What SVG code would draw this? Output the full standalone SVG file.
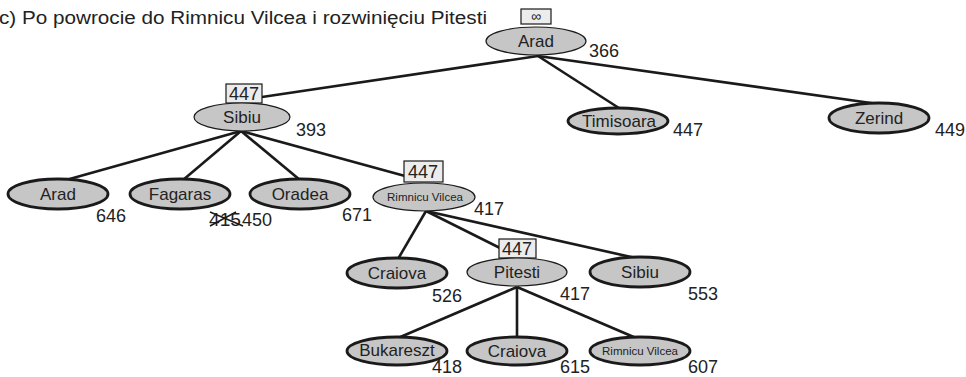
<svg xmlns="http://www.w3.org/2000/svg" width="966" height="377" viewBox="0 0 966 377">
<style>
text{font-family:"Liberation Sans","DejaVu Sans",sans-serif;fill:#222}
.e{fill:#c6c6c6;stroke:#1a1a1a}
.x{stroke-width:1.2}
.k{stroke-width:2.8}
.b{fill:#ececec;stroke:#1a1a1a;stroke-width:1.2}
.n{font-size:17px;text-anchor:middle}
.s{font-size:11.5px;text-anchor:middle}
.v{font-size:18px}
.bv{font-size:18px;text-anchor:middle}
.c line{stroke:#1a1a1a;stroke-width:2.6;fill:none}
</style>
<rect width="966" height="377" fill="#fff"/>
<text x="-1" y="24" font-size="18" textLength="488" lengthAdjust="spacingAndGlyphs">c) Po powrocie do Rimnicu Vilcea i rozwinięciu Pitesti</text>
<g class="c" id="connectors">
<line x1="538" y1="56" x2="262" y2="97"/>
<line x1="538" y1="56" x2="622" y2="110"/>
<line x1="538" y1="56" x2="878" y2="104"/>
<line x1="241" y1="131" x2="66" y2="180"/>
<line x1="241" y1="131" x2="183" y2="180"/>
<line x1="241" y1="131" x2="300" y2="180"/>
<line x1="241" y1="131" x2="405" y2="176"/>
<line x1="426" y1="211" x2="398" y2="259"/>
<line x1="426" y1="211" x2="500" y2="248"/>
<line x1="426" y1="211" x2="640" y2="259"/>
<line x1="517" y1="287" x2="398" y2="338"/>
<line x1="517" y1="287" x2="517" y2="338"/>
<line x1="517" y1="287" x2="636" y2="338"/>
</g>
<g id="n-arad-root">
<rect class="b" x="521" y="9" width="30" height="15"/>
<text x="536" y="21" font-size="14" text-anchor="middle">∞</text>
<ellipse class="e x" cx="536" cy="41" rx="50" ry="14"/>
<text class="n" x="536" y="47">Arad</text>
<text class="v" x="589" y="57">366</text>
</g>
<g id="n-sibiu">
<rect class="b" x="226" y="84" width="36" height="19"/>
<text class="bv" x="244" y="100">447</text>
<ellipse class="e x" cx="242" cy="117" rx="48" ry="14"/>
<text class="n" x="242" y="123">Sibiu</text>
<text class="v" x="296" y="136">393</text>
</g>
<g id="n-timisoara">
<ellipse class="e k" cx="618" cy="121" rx="50" ry="13"/>
<text class="n" x="619" y="127" font-size="15.5">Timisoara</text>
<text class="v" x="673" y="136">447</text>
</g>
<g id="n-zerind">
<ellipse class="e k" cx="879" cy="118" rx="50" ry="15"/>
<text class="n" x="879" y="124">Zerind</text>
<text class="v" x="935" y="136">449</text>
</g>
<g id="n-arad2">
<ellipse class="e k" cx="58" cy="194" rx="50" ry="15"/>
<text class="n" x="58" y="200">Arad</text>
<text class="v" x="96" y="222">646</text>
</g>
<g id="n-fagaras">
<ellipse class="e k" cx="180" cy="194" rx="50" ry="15"/>
<text class="n" x="180" y="200">Fagaras</text>
<text class="v" x="209" y="226" textLength="32" lengthAdjust="spacingAndGlyphs">415</text>
<line x1="210" y1="212" x2="243" y2="226" stroke="#1a1a1a" stroke-width="1.5"/>
<line x1="210" y1="226" x2="236" y2="212" stroke="#1a1a1a" stroke-width="1.5"/>
<text class="v" x="242" y="226">450</text>
</g>
<g id="n-oradea">
<ellipse class="e k" cx="300" cy="194" rx="50" ry="15"/>
<text class="n" x="300" y="200">Oradea</text>
<text class="v" x="342" y="221">671</text>
</g>
<g id="n-rimnicu">
<rect class="b" x="404" y="161" width="39" height="21"/>
<text class="bv" x="423" y="178">447</text>
<ellipse class="e x" cx="424" cy="197" rx="51" ry="14"/>
<text class="s" x="425" y="201" textLength="76" lengthAdjust="spacingAndGlyphs">Rimnicu Vilcea</text>
<text class="v" x="474" y="215">417</text>
</g>
<g id="n-craiova1">
<ellipse class="e k" cx="397" cy="273" rx="50" ry="15"/>
<text class="n" x="397" y="279">Craiova</text>
<text class="v" x="432" y="302">526</text>
</g>
<g id="n-pitesti">
<rect class="b" x="499" y="239" width="37" height="19"/>
<text class="bv" x="517" y="255">447</text>
<ellipse class="e x" cx="517" cy="272" rx="50" ry="14"/>
<text class="n" x="517" y="278">Pitesti</text>
<text class="v" x="560" y="300">417</text>
</g>
<g id="n-sibiu2">
<ellipse class="e k" cx="640" cy="272" rx="50" ry="15"/>
<text class="n" x="640" y="278">Sibiu</text>
<text class="v" x="688" y="300">553</text>
</g>
<g id="n-bukareszt">
<ellipse class="e k" cx="397" cy="351" rx="50" ry="14"/>
<text class="n" x="397" y="356" font-size="15">Bukareszt</text>
<text class="v" x="432" y="373">418</text>
</g>
<g id="n-craiova2">
<ellipse class="e k" cx="517" cy="351" rx="50" ry="14"/>
<text class="n" x="517" y="357">Craiova</text>
<text class="v" x="560" y="373">615</text>
</g>
<g id="n-rimnicu2">
<ellipse class="e k" cx="640" cy="351" rx="50" ry="14"/>
<text class="s" x="640" y="355" textLength="76" lengthAdjust="spacingAndGlyphs">Rimnicu Vilcea</text>
<text class="v" x="688" y="373">607</text>
</g>
</svg>
